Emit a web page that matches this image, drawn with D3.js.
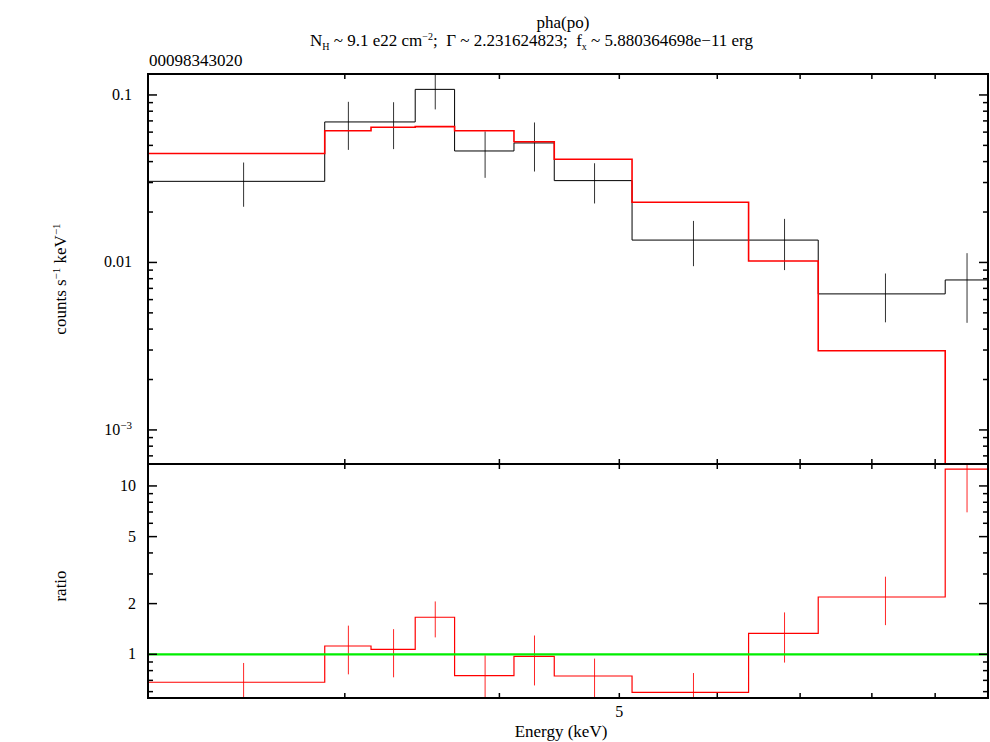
<!DOCTYPE html>
<html>
<head>
<meta charset="utf-8">
<script src="https://cdn.jsdelivr.net/npm/d3@7"></script>
<style>
  body { margin: 0; background: #fff; }
  svg text { font-family: "Liberation Serif", "Times New Roman", Times, "DejaVu Serif", serif; fill: #000; white-space: pre; }
</style>
</head>
<body>
<div id="container"></div>
<script>
// energy bins (keV)
const binLo = [2.08, 2.89, 3.15, 3.42, 3.68, 4.11, 4.43, 5.12, 6.36, 7.24, 9.17];
const binHi = [2.89, 3.15, 3.42, 3.68, 4.11, 4.43, 5.12, 6.36, 7.24, 9.17, 9.93];
// counts s^-1 keV^-1
const rate    = [0.0305, 0.069, 0.069, 0.108, 0.0463, 0.0517, 0.0308, 0.0136, 0.0136, 0.00649, 0.00786];
const rateErr = [0.009, 0.022, 0.0215, 0.026, 0.0143, 0.0168, 0.0083, 0.0041, 0.0046, 0.0021, 0.0035];
const model   = [0.0447, 0.0612, 0.0641, 0.0647, 0.0612, 0.0526, 0.0413, 0.0229, 0.0102, 0.00297, 0.000625];
// data / model
const ratio    = [0.682, 1.12, 1.07, 1.66, 0.746, 0.973, 0.743, 0.594, 1.333, 2.19, 12.57];
const ratioErr = [0.206, 0.36, 0.34, 0.40, 0.24, 0.32, 0.20, 0.18, 0.44, 0.70, 5.6];

const xTicks = [3, 4, 5, 6, 7, 8, 9];
const xLabels = [5];
const topMajor = [0.1, 0.01, 0.001];
const botMajor = [10, 5, 2, 1];

const width = 990, height = 742;
const plotL = 148, plotR = 988, plotT = 74, plotM = 464, plotB = 698;
const serif = '"Liberation Serif", "Times New Roman", Times, "DejaVu Serif", serif';

const x = d3.scaleLog().domain([2.08, 9.93]).range([plotL, plotR]);
const yTop = d3.scaleLog().domain([6.26e-4, 0.1334]).range([plotM, plotT]);
const yBot = d3.scaleLog().domain([0.55, 13.5]).range([plotB, plotM]);

const svg = d3.select('#container')
  .append('svg')
  .attr('width', width)
  .attr('height', height)
  .attr('font-family', serif);

const defs = svg.append('defs');
defs.append('clipPath').attr('id', 'clipTop')
  .append('rect').attr('x', plotL).attr('y', plotT).attr('width', plotR - plotL).attr('height', plotM - plotT);
defs.append('clipPath').attr('id', 'clipBot')
  .append('rect').attr('x', plotL).attr('y', plotM).attr('width', plotR - plotL).attr('height', plotB - plotM);

const bins = binLo.map((lo, i) => ({
  lo, hi: binHi[i], c: (lo + binHi[i]) / 2,
  rate: rate[i], err: rateErr[i], model: model[i],
  ratio: ratio[i], rerr: ratioErr[i]
}));

function stepPoints(key) {
  const pts = [];
  bins.forEach(b => { pts.push([b.lo, b[key]]); pts.push([b.hi, b[key]]); });
  return pts;
}

// minor log ticks
function logMinor(lo, hi) {
  const out = [];
  for (let e = Math.floor(Math.log10(lo)); e <= Math.ceil(Math.log10(hi)); e++) {
    for (let m = 1; m < 10; m++) {
      const v = +(m * Math.pow(10, e)).toPrecision(6);
      if (v >= lo && v <= hi) out.push(v);
    }
  }
  return out;
}

// ---- top panel ----
const gTop = svg.append('g').attr('clip-path', 'url(#clipTop)');

gTop.append('path')
  .datum(stepPoints('rate'))
  .attr('fill', 'none').attr('stroke', '#000').attr('stroke-width', 1)
  .attr('d', d3.line().x(d => x(d[0])).y(d => yTop(d[1])));

gTop.selectAll('.ebar')
  .data(bins).enter()
  .append('line')
  .attr('class', 'ebar')
  .attr('x1', d => x(d.c)).attr('x2', d => x(d.c))
  .attr('y1', d => yTop(d.rate + d.err))
  .attr('y2', d => yTop(Math.max(d.rate - d.err, 1e-5)))
  .attr('stroke', '#000').attr('stroke-width', 1).attr('opacity', 0.8);

gTop.append('path')
  .datum(stepPoints('model'))
  .attr('fill', 'none').attr('stroke', '#ff0000').attr('stroke-width', 1.6)
  .attr('d', d3.line().x(d => x(d[0])).y(d => yTop(d[1])));

// ---- bottom panel ----
const gBot = svg.append('g').attr('clip-path', 'url(#clipBot)');

gBot.append('path')
  .datum(stepPoints('ratio'))
  .attr('fill', 'none').attr('stroke', '#ff0000').attr('stroke-width', 1.2)
  .attr('d', d3.line().x(d => x(d[0])).y(d => yBot(d[1])));

gBot.selectAll('.rbar')
  .data(bins).enter()
  .append('line')
  .attr('class', 'rbar')
  .attr('x1', d => x(d.c)).attr('x2', d => x(d.c))
  .attr('y1', d => yBot(d.ratio + d.rerr))
  .attr('y2', d => yBot(Math.max(d.ratio - d.rerr, 0.01)))
  .attr('stroke', '#ff0000').attr('stroke-width', 1).attr('opacity', 0.85);

gBot.append('line')
  .attr('x1', plotL).attr('x2', plotR)
  .attr('y1', yBot(1)).attr('y2', yBot(1))
  .attr('stroke', '#00ee00').attr('stroke-width', 2.2);

// ---- ticks ----
const tickG = svg.append('g').attr('stroke', '#000').attr('stroke-width', 1.5);

function hTicks(scale, vals, len) {
  vals.forEach(v => {
    const yy = scale(v);
    tickG.append('line').attr('x1', plotL).attr('x2', plotL + len).attr('y1', yy).attr('y2', yy);
    tickG.append('line').attr('x1', plotR).attr('x2', plotR - len).attr('y1', yy).attr('y2', yy);
  });
}
hTicks(yTop, logMinor(6.3e-4, 0.133).filter(v => !topMajor.includes(v)), 5);
hTicks(yTop, topMajor, 9);
hTicks(yBot, logMinor(0.56, 13.4).filter(v => !botMajor.includes(v)), 5);
hTicks(yBot, botMajor, 9);

[plotT, plotM, plotB].forEach(yy => {
  xTicks.forEach(v => {
    const xx = x(v);
    if (yy !== plotT) tickG.append('line').attr('x1', xx).attr('x2', xx).attr('y1', yy).attr('y2', yy - 5);
    if (yy !== plotB) tickG.append('line').attr('x1', xx).attr('x2', xx).attr('y1', yy).attr('y2', yy + 5);
  });
});

// frame
svg.append('rect')
  .attr('x', plotL).attr('y', plotT).attr('width', plotR - plotL).attr('height', plotB - plotT)
  .attr('fill', 'none').attr('stroke', '#000').attr('stroke-width', 2);
svg.append('line')
  .attr('x1', plotL).attr('x2', plotR).attr('y1', plotM).attr('y2', plotM)
  .attr('stroke', '#000').attr('stroke-width', 2);

// ---- tick labels ----
const lab = svg.append('g').attr('font-size', 16).attr('font-family', serif);

topMajor.forEach(v => {
  const t = lab.append('text')
    .attr('x', 132).attr('y', yTop(v) + 5)
    .attr('text-anchor', 'end');
  if (v === 0.001) {
    t.append('tspan').text('10');
    t.append('tspan').attr('font-size', 11).attr('dy', -6).text('\u22123');
  } else {
    t.text(v === 0.1 ? '0.1' : '0.01');
  }
});

botMajor.forEach(v => {
  lab.append('text')
    .attr('x', 136).attr('y', yBot(v) + 5)
    .attr('text-anchor', 'end')
    .text(v);
});

xLabels.forEach(v => {
  lab.append('text')
    .attr('x', x(v)).attr('y', 717)
    .attr('text-anchor', 'middle')
    .text(v);
});

// ---- axis titles ----
const big = svg.append('g').attr('font-size', 17).attr('font-family', serif);

big.append('text')
  .attr('x', 561).attr('y', 737)
  .attr('text-anchor', 'middle')
  .text('Energy (keV)');

const yl = big.append('text')
  .attr('transform', 'translate(66,279) rotate(-90)')
  .attr('text-anchor', 'middle');
yl.append('tspan').text('counts s');
yl.append('tspan').attr('font-size', 11).attr('dy', -6).text('\u22121');
yl.append('tspan').attr('dy', 6).text(' keV');
yl.append('tspan').attr('font-size', 11).attr('dy', -6).text('\u22121');

big.append('text')
  .attr('transform', 'translate(66,586) rotate(-90)')
  .attr('text-anchor', 'middle')
  .text('ratio');

// ---- titles ----
big.append('text')
  .attr('x', 563).attr('y', 28)
  .attr('text-anchor', 'middle')
  .text('pha(po)');

const t2 = big.append('text').attr('x', 310).attr('y', 46);
t2.append('tspan').text('N');
t2.append('tspan').attr('font-size', 10).attr('dy', 4).text('H');
t2.append('tspan').attr('dy', -4).text(' ~ 9.1 e22 cm');
t2.append('tspan').attr('font-size', 10).attr('dy', -6).text('\u22122');
t2.append('tspan').attr('dy', 6).text(';\u00a0\u00a0\u0393 ~ 2.231624823;\u00a0\u00a0f');
t2.append('tspan').attr('font-size', 10).attr('dy', 4).text('x');
t2.append('tspan').attr('dy', -4).text(' ~ 5.880364698e\u221211 erg');

big.append('text')
  .attr('x', 149).attr('y', 66)
  .text('00098343020');
</script>
</body>
</html>
